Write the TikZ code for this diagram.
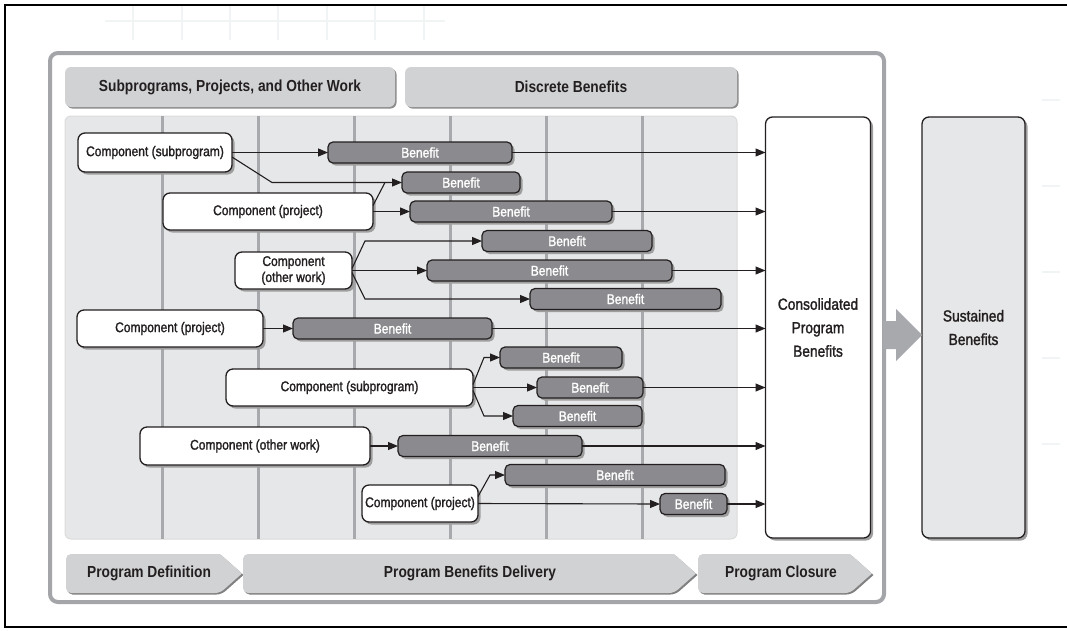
\documentclass[tikz,border=0pt]{standalone}
\usepackage{fontspec}
\setmainfont{Liberation Sans}[FakeStretch=0.86]
\newfontfamily\mediumfont{Liberation Sans}[FakeStretch=0.86, FakeBold=1.6]
\usetikzlibrary{arrows.meta,shadows}

\definecolor{panelgray}{HTML}{E6E7E8}
\definecolor{gridgray}{HTML}{A7A9AC}
\definecolor{hdrgray}{HTML}{D1D2D4}
\definecolor{benefitgray}{HTML}{8B8B8F}
\definecolor{framegray}{HTML}{A3A5A8}
\definecolor{inkblack}{HTML}{231F20}
\definecolor{ghost}{HTML}{F1F4F5}

\tikzset{
  boxshadow/.style={drop shadow={shadow xshift=2.5pt,shadow yshift=-2.5pt,fill=black!38,opacity=1}},
  header/.style={fill=hdrgray, rounded corners=6pt, inner sep=0pt, outer sep=0pt,
    text=inkblack, font=\fontsize{16}{18}\selectfont\bfseries,
    drop shadow={shadow xshift=1.5pt,shadow yshift=-1.5pt,fill=black!45,opacity=1}},
  comp/.style={draw=inkblack, line width=1.3pt, fill=white, rounded corners=7pt,
    inner sep=0pt, outer sep=0pt, text=inkblack, align=center,
    font=\mediumfont\fontsize{14}{16}\selectfont, boxshadow},
  benefit/.style={draw=inkblack, line width=1.2pt, fill=benefitgray, rounded corners=5pt,
    inner sep=0pt, outer sep=0pt, text=white, font=\mediumfont\fontsize{14}{16}\selectfont,
    minimum height=21pt, boxshadow},
  conn/.style={draw=inkblack, line width=1.1pt},
  arr/.style={conn, -{Triangle[length=10pt,width=8pt]}},
  phasefill/.style={fill=hdrgray,
    drop shadow={shadow xshift=1.5pt,shadow yshift=-1.5pt,fill=black!50,opacity=1}},
  phasetext/.style={inner sep=0pt, text=inkblack, font=\fontsize{16}{18}\selectfont\bfseries},
  sidebox/.style={comp, minimum width=105pt, minimum height=421pt,
    font=\mediumfont\fontsize{16}{23.5}\selectfont},
}

\begin{document}
\begin{tikzpicture}[x=1pt,y=-1pt]
\useasboundingbox (0,0) rectangle (1067,630);
\fill[white] (0,0) rectangle (1067,630);

% faint ruling left in the page background
\begin{scope}[ghost, line width=1.2pt]
  \draw (105,21) -- (445,21);
  \foreach \gx in {133,182,230,278,327,375,424} \draw (\gx,6) -- (\gx,40);
  \foreach \gy in {100,186,272,358,444} \draw (1042,\gy) -- (1060,\gy);
\end{scope}

% page frame
\draw[black, line width=2pt] (1067,5) -- (5,5) -- (5,627) -- (1067,627);

% program frame
\draw[framegray, line width=4pt, rounded corners=8pt] (50,53) rectangle (884,602);

% column headers
\node[header, minimum width=330pt, minimum height=40pt] (hdrA) at (230,87)
  {Subprograms, Projects, and Other Work};
\node[header, minimum width=332pt, minimum height=40pt] (hdrB) at (571,87)
  {Discrete Benefits};

% timeline panel with its column rules
\filldraw[fill=panelgray, draw=black!14, line width=1pt, rounded corners=6pt]
  (65,116) rectangle (737,539);
\foreach \gx in {162,258,354,450,546,642}
  \draw[gridgray, line width=3pt] (\gx,116) -- (\gx,539);

% components
\node[comp, minimum width=154pt, minimum height=39pt] (c1) at (155,152.5) {Component (subprogram)};
\node[comp, minimum width=210pt, minimum height=37pt] (c2) at (268,211.5) {Component (project)};
\node[comp, minimum width=117pt, minimum height=37pt] (c3) at (293.5,270.5) {Component\\(other work)};
\node[comp, minimum width=186pt, minimum height=37pt] (c4) at (170,328.5) {Component (project)};
\node[comp, minimum width=247pt, minimum height=37pt] (c5) at (349.5,387.5) {Component (subprogram)};
\node[comp, minimum width=230pt, minimum height=38pt] (c6) at (255,446) {Component (other work)};
\node[comp, minimum width=116pt, minimum height=37pt] (c7) at (420,503.5) {Component (project)};

% benefits
\node[benefit, minimum width=184pt] (b1)  at (420,152.5)  {Benefit};
\node[benefit, minimum width=118pt] (b2)  at (461,182.5)  {Benefit};
\node[benefit, minimum width=202pt] (b3)  at (511,211.5)  {Benefit};
\node[benefit, minimum width=170pt] (b4)  at (567,241)    {Benefit};
\node[benefit, minimum width=245pt] (b5)  at (549.5,270.5) {Benefit};
\node[benefit, minimum width=191pt] (b6)  at (625.5,299)  {Benefit};
\node[benefit, minimum width=199pt] (b7)  at (392.5,328.5) {Benefit};
\node[benefit, minimum width=122pt] (b8)  at (561,357.5)  {Benefit};
\node[benefit, minimum width=106pt] (b9)  at (590,387.5)  {Benefit};
\node[benefit, minimum width=129pt] (b10) at (577.5,416)  {Benefit};
\node[benefit, minimum width=184pt] (b11) at (490,446)    {Benefit};
\node[benefit, minimum width=220pt] (b12) at (615,475)    {Benefit};
\node[benefit, minimum width=67pt]  (b13) at (693.5,504)  {Benefit};

% consolidated and sustained benefits
\node[sidebox] (cons) at (818,327.5) {Consolidated\\Program\\Benefits};
\node[sidebox, fill=panelgray, minimum width=103pt] (sust) at (973.5,327.5) {Sustained\\Benefits};

% hand-over arrow
\fill[gridgray] (883,321) -- (896,321) -- (896,309) -- (sust.west |- 0,335)
  -- (896,361) -- (896,349) -- (883,349) -- cycle;

% bend points of the branching connectors
\coordinate (k1) at (272,182.5);
\coordinate (k2) at (385,182.5);
\coordinate (k3a) at (365,241);
\coordinate (k3b) at (365,299);
\coordinate (k5a) at (484,357.5);
\coordinate (k5b) at (484,416);
\coordinate (k7) at (490,475);

% components to benefits
\draw[arr] (c1.east) -- (b1.west);
\draw[arr] ([yshift=-4.5pt]c1.east) -- (k1) -- (b2.west);
\draw[conn] ([yshift=6pt]c2.east) -- (k2);
\draw[arr] (c2.east) -- (b3.west);
\draw[arr] ([yshift=2pt]c3.east) -- (k3a) -- (b4.west);
\draw[arr] (c3.east) -- (b5.west);
\draw[arr] ([yshift=-2pt]c3.east) -- (k3b) -- (b6.west);
\draw[arr] (c4.east) -- (b7.west);
\draw[arr] ([yshift=3pt]c5.east) -- (k5a) -- (b8.west);
\draw[arr] (c5.east) -- (b9.west);
\draw[arr] ([yshift=-3pt]c5.east) -- (k5b) -- (b10.west);
\draw[arr] (c6.east) -- (b11.west);
\draw[arr] ([yshift=7pt]c7.east) -- (k7) -- (b12.west);
\draw[arr] (c7.east) -- (b13.west);

% benefits consolidated
\foreach \b in {b1,b3,b5,b7,b9,b11,b13}
  \draw[arr] (\b.east) -- (\b.east -| cons.west);

% program phases
\fill[phasefill, rounded corners=5pt] (220,554) -- (66,554) -- (66,593) -- (220,593)
  [sharp corners] -- (242,573.5) -- cycle;
\fill[phasefill, rounded corners=5pt] (674,554) -- (243,554) -- (243,593) -- (674,593)
  [sharp corners] -- (696,573.5) -- cycle;
\fill[phasefill, rounded corners=5pt] (850,554) -- (698,554) -- (698,593) -- (850,593)
  [sharp corners] -- (872,573.5) -- cycle;
\node[phasetext] (ph1) at (149,573.5) {Program Definition};
\node[phasetext] (ph2) at (470,573.5) {Program Benefits Delivery};
\node[phasetext] (ph3) at (781,573.5) {Program Closure};

\end{tikzpicture}
\end{document}
